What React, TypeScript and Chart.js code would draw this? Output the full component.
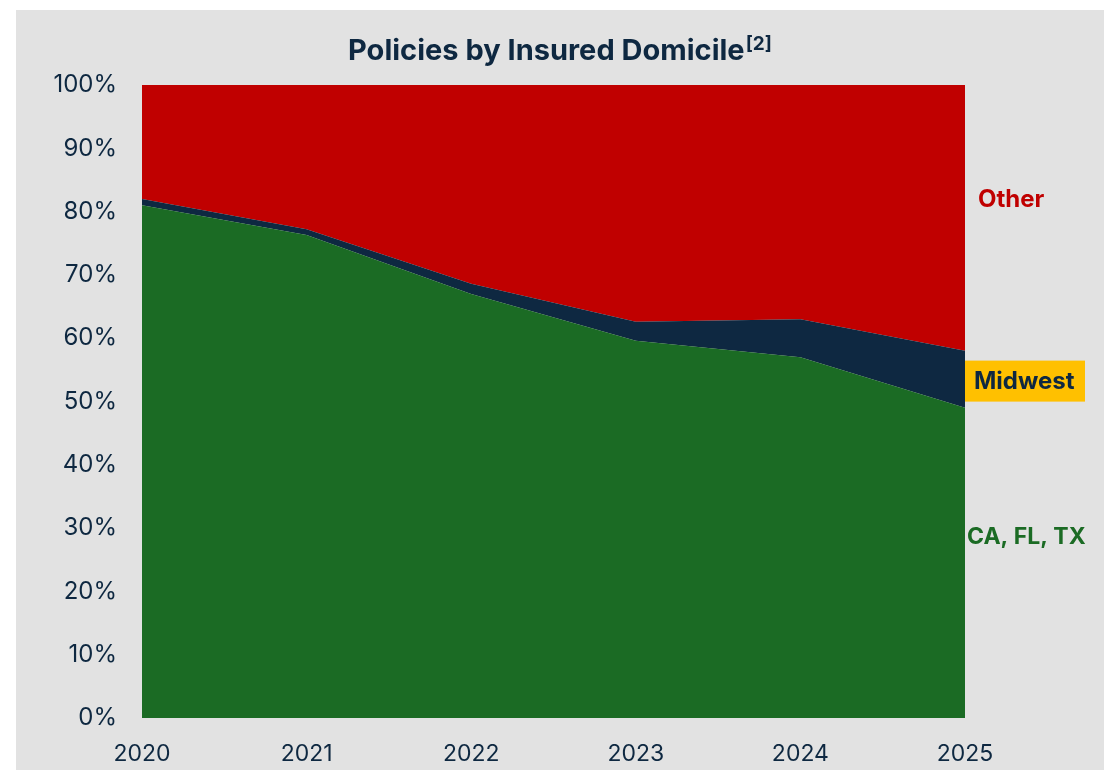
import React, { useEffect, useRef } from "react";
import { Chart, registerables } from "chart.js";

Chart.register(...registerables);

const years = ["2020", "2021", "2022", "2023", "2024", "2025"];
const caFlTx = [81.0, 76.3, 67.0, 59.6, 57.0, 49.0];
const midwest = [1.0, 0.9, 1.6, 3.0, 6.0, 9.0];
const other = [18.0, 22.8, 31.4, 37.4, 37.0, 42.0];
const yTickValues = [0, 10, 20, 30, 40, 50, 60, 70, 80, 90, 100];

const titleText = "Policies by Insured Domicile";
const titleSup = "[2]";
const seriesNames = ["CA, FL, TX", "Midwest", "Other"];

const NAVY = "#0e2841";
const RED = "#c00000";
const GREEN = "#1b6b24";
const GOLD = "#ffc000";
const BG = "#e2e2e2";

const overlayPlugin = {
  id: "overlay",
  beforeDraw(chart: any) {
    const { ctx, width, height } = chart;
    ctx.save();
    ctx.fillStyle = BG;
    ctx.fillRect(0, 0, width, height);
    ctx.restore();
  },
  afterDraw(chart: any) {
    const { ctx, chartArea, scales } = chart;
    const y = scales.y;
    ctx.save();
    // Title
    ctx.fillStyle = NAVY;
    ctx.textBaseline = "alphabetic";
    ctx.font = "bold 29px Inter";
    const mainW = ctx.measureText(titleText).width;
    ctx.font = "bold 19px Inter";
    const supW = ctx.measureText(titleSup).width;
    const total = mainW + supW + 1;
    const startX = chart.width / 2 - total / 2;
    ctx.textAlign = "left";
    ctx.font = "bold 29px Inter";
    ctx.fillText(titleText, startX, 50);
    ctx.font = "bold 19px Inter";
    ctx.fillText(titleSup, startX + mainW + 1, 40);

    // Series labels on the right
    const x0 = chartArea.right;
    ctx.textBaseline = "middle";
    ctx.font = "bold 24px Inter";
    // Other
    ctx.fillStyle = RED;
    ctx.fillText(seriesNames[2], x0 + 13, y.getPixelForValue(81.8));
    // Midwest box
    const my = y.getPixelForValue(53.3);
    ctx.fillStyle = GOLD;
    ctx.fillRect(x0, my - 20, 120, 41);
    ctx.fillStyle = NAVY;
    ctx.fillText(seriesNames[1], x0 + 9, my + 1);
    // CA, FL, TX
    ctx.font = "bold 23px Inter";
    ctx.fillStyle = GREEN;
    ctx.fillText(seriesNames[0], x0 + 2, y.getPixelForValue(28.6));
    ctx.restore();
  },
};

export default function App() {
  const canvasRef = useRef<HTMLCanvasElement | null>(null);

  useEffect(() => {
    const canvas = canvasRef.current;
    if (!canvas) return;
    const chart = new Chart(canvas, {
      type: "line",
      data: {
        labels: years,
        datasets: [
          {
            label: seriesNames[0],
            data: caFlTx,
            backgroundColor: GREEN,
            borderWidth: 0,
            pointRadius: 0,
            fill: "origin",
            tension: 0,
          },
          {
            label: seriesNames[1],
            data: midwest,
            backgroundColor: NAVY,
            borderWidth: 0,
            pointRadius: 0,
            fill: "-1",
            tension: 0,
          },
          {
            label: seriesNames[2],
            data: other,
            backgroundColor: RED,
            borderWidth: 0,
            pointRadius: 0,
            fill: "-1",
            tension: 0,
          },
        ],
      },
      options: {
        animation: false,
        responsive: false,
        maintainAspectRatio: false,
        layout: { padding: { left: 0, right: 139, top: 75, bottom: 0 } },
        plugins: {
          legend: { display: false },
          title: { display: false },
          tooltip: { enabled: false },
          filler: { propagate: false },
        },
        scales: {
          x: {
            type: "category",
            offset: false,
            grid: { display: false, drawTicks: false },
            border: { display: false },
            ticks: {
              color: NAVY,
              font: { family: "Inter", size: 23 },
              padding: 22,
              maxRotation: 0,
              autoSkip: false,
            },
            afterFit(scale: any) {
              scale.height = 52;
            },
          },
          y: {
            stacked: true,
            min: 0,
            max: 100,
            afterBuildTicks(scale: any) {
              scale.ticks = yTickValues.map((v) => ({ value: v }));
            },
            grid: { display: false, drawTicks: false },
            border: { display: false },
            ticks: {
              color: NAVY,
              font: { family: "Inter", size: 24 },
              padding: 25,
              callback: (v: any) => `${v}%`,
            },
            afterFit(scale: any) {
              scale.width = 126;
            },
          },
        },
      },
      plugins: [overlayPlugin],
    });
    return () => chart.destroy();
  }, []);

  return (
    <div
      style={{
        position: "absolute",
        left: 0,
        top: 0,
        width: 1109,
        height: 770,
        background: "#ffffff",
        overflow: "hidden",
      }}
    >
      <div style={{ position: "absolute", left: 16, top: 10, width: 1088, height: 760 }}>
        <canvas ref={canvasRef} width={1088} height={760} style={{ width: 1088, height: 760, display: "block" }} />
      </div>
    </div>
  );
}
